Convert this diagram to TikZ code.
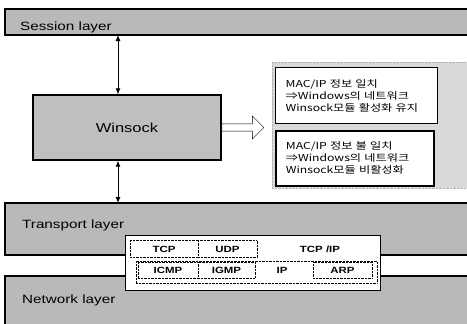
\documentclass[tikz,border=0pt]{standalone}
\usepackage{fontspec}
\setmainfont[FakeStretch=1.27]{Liberation Sans}
\newfontfamily\kr[FakeStretch=1.27]{Noto Sans CJK KR}
\usetikzlibrary{arrows.meta,shapes.arrows}
\begin{document}
\begin{tikzpicture}[x=1pt,y=-1pt,
  band/.style={draw=black,line width=1.2pt,fill=gray!55},
  bandlabel/.style={anchor=west,font=\fontsize{12}{12}\selectfont,inner sep=0pt},
  link/.style={line width=1pt,{Latex[length=6pt,width=5pt]}-{Latex[length=6pt,width=5pt]}},
  infobox/.style={draw=black,fill=white,align=left,anchor=north west,
    font=\kr\fontsize{9.6}{12}\selectfont,inner xsep=10pt,inner ysep=0pt},
  proto/.style={draw=black,densely dotted,fill=white,font=\fontsize{9}{9}\selectfont\bfseries,inner sep=0pt},
  protolabel/.style={font=\fontsize{9}{9}\selectfont\bfseries,inner sep=0pt}]
\useasboundingbox (0,0) rectangle (467,324);
\fill[white] (0,0) rectangle (467,324);

% protocol layers
\draw[band] (5,9) rectangle (468,35);
\node[bandlabel] (session) at (20,27) {Session layer};
\draw[band] (5,203) rectangle (468,255);
\node[bandlabel] (transport) at (22,225) {Transport layer};
\draw[band] (5,276) rectangle (468,326);
\node[bandlabel] (network) at (22,300) {Network layer};
\coordinate (sbot) at (118,35);
\coordinate (ttop) at (118,203);

% Winsock block
\node[draw=black,line width=1.2pt,fill=gray!50,minimum width=188pt,minimum height=65pt,
  font=\fontsize{13}{13}\selectfont] (ws) at (127,127.5) {Winsock};
\draw[link] (sbot) -- (ws.north -| sbot);
\draw[link] (ws.south -| ttop) -- (ttop);

% decision panel
\draw[gray!60,fill=gray!30,densely dotted] (272,62) rectangle (469,188);
\node[single arrow,draw=black,fill=white,minimum height=42pt,minimum width=23pt,
  single arrow head extend=6pt,inner sep=2.5pt,anchor=tail] (flow) at (ws.east) {};
\node[infobox,line width=1.3pt,text width=142pt,minimum height=56pt] (ok) at (275,67)
  {MAC/IP 정보 일치\\⇒Windows의 네트워크\\Winsock모듈 활성화 유지};
\node[infobox,line width=1.8pt,text width=138pt,minimum height=55pt] (ng) at (275,130)
  {MAC/IP 정보 불 일치\\⇒Windows의 네트워크\\Winsock모듈 비활성화};

% TCP/IP stack
\node[draw=black,fill=white,minimum width=255pt,minimum height=55pt] (stack) at (252.5,262.5) {};
\node[proto,minimum width=68pt,minimum height=17pt] (tcp) at (164,249) {TCP};
\node[proto,minimum width=59pt,minimum height=17pt] (udp) at (227.5,249) {UDP};
\node[protolabel] (tcpip) at (320,249) {TCP /IP};
\node[draw=black,densely dotted,minimum width=241pt,minimum height=22pt] (row) at (256.5,272) {};
\node[proto,minimum width=60pt,minimum height=16pt] (icmp) at (168,270) {ICMP};
\node[proto,minimum width=57pt,minimum height=16pt] (igmp) at (226.5,270) {IGMP};
\node[protolabel] (ip) at (282,270) {IP};
\node[proto,minimum width=59pt,minimum height=16pt] (arp) at (342.5,270) {ARP};
\end{tikzpicture}
\end{document}
